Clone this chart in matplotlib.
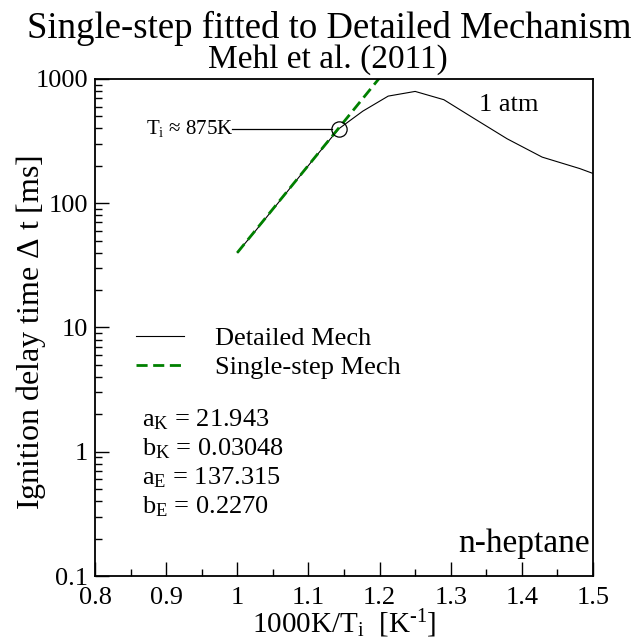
import numpy as np
import matplotlib.pyplot as plt
from matplotlib.ticker import MultipleLocator, LogLocator, NullFormatter, FixedLocator, FixedFormatter

plt.rcParams['font.family'] = ['Liberation Serif', 'DejaVu Serif']
plt.rcParams['mathtext.fontset'] = 'custom'
plt.rcParams['mathtext.rm'] = 'Liberation Serif'
plt.rcParams['mathtext.it'] = 'Liberation Serif:italic'

# detailed mechanism, 1 atm (temperatures in K, delay in ms)
T_detailed = [1000, 975, 950, 925, 900, 875, 850, 825, 800, 775, 750, 725, 700, 675, 650]
tau_detailed = [40, 60, 93, 148, 241, 398, 551, 728, 794, 681, 479, 330, 235, 190, 144]

# single-step fit
x_single = [1.0, 1.2]
tau_single = [40, 1020]

T_ign = 875
tau_ign = 398

params = [r'a$_{\mathrm{K}}$ = 21.943', r'b$_{\mathrm{K}}$ = 0.03048',
          r'a$_{\mathrm{E}}$ = 137.315', r'b$_{\mathrm{E}}$ = 0.2270']

x_detailed = [1000.0 / t for t in T_detailed]

fig = plt.figure(figsize=(6.39, 6.41), dpi=100)
ax = fig.add_axes([0.1487, 0.1014, 0.7793, 0.7754])

ax.plot(x_detailed, tau_detailed, color='black', lw=0.8, label='Detailed Mech')
ax.plot(x_single, tau_single, color='green', lw=2.0, ls=(0, (4, 2)), label='Single-step Mech')

# ignition point marker and label
x_ign = 1000.0 / T_ign
ax.plot([x_ign], [tau_ign], marker='o', ms=11, mfc='none', mec='black', mew=0.9)
ax.plot([0.9926, x_ign - 0.0095], [tau_ign, tau_ign], color='black', lw=0.9)
ax.text(0.872, tau_ign, r'T$_{\mathrm{i}}$ ≈ 875K', fontsize=15, va='center', ha='left')

ax.set_yscale('log')
ax.set_xlim(0.8, 1.5)
ax.set_ylim(0.1, 1000)

xt = [0.8, 0.9, 1.0, 1.1, 1.2, 1.3, 1.4, 1.5]
ax.xaxis.set_major_locator(FixedLocator(xt))
ax.xaxis.set_major_formatter(FixedFormatter(['0.8', '0.9', '1', '1.1', '1.2', '1.3', '1.4', '1.5']))
ax.xaxis.set_minor_locator(MultipleLocator(0.05))
yt = [0.1, 1, 10, 100, 1000]
ax.yaxis.set_major_locator(FixedLocator(yt))
ax.yaxis.set_major_formatter(FixedFormatter(['0.1', '1', '10', '100', '1000']))
ax.yaxis.set_minor_locator(LogLocator(base=10, subs=np.arange(2, 10)))
ax.yaxis.set_minor_formatter(NullFormatter())

ax.tick_params(which='both', direction='in', top=False, right=False, labelsize=19)
ax.tick_params(axis='x', pad=8)
ax.tick_params(axis='y', pad=5)
ax.tick_params(which='major', length=10, width=1.0)
ax.tick_params(which='minor', length=5, width=1.0)
for s in ax.spines.values():
    s.set_linewidth(1.3)

ax.set_xlabel(r'1000K/T$_{\mathrm{i}}$  [K$^{\text{-1}}$]', fontsize=21, labelpad=-1)
ax.set_ylabel(r'Ignition delay time $\Delta$ t [ms]', fontsize=23, labelpad=2)
ax.yaxis.set_label_coords(-0.094, 0.49)

ax.legend(loc='upper left', bbox_to_anchor=(0.056, 0.529), frameon=False, fontsize=19,
          handlelength=1.8, handletextpad=1.2, labelspacing=0.22, borderpad=0)

for i, p in enumerate(params):
    ax.text(0.094, 0.315 - i * 0.0586, p, transform=ax.transAxes, fontsize=19, va='center')

ax.text(1.34, 620, '1 atm', fontsize=19, ha='left', va='center')
ax.text(0.994, 0.048, 'n-heptane', transform=ax.transAxes, fontsize=24, ha='right', va='baseline')

fig.text(0.515, 0.941, 'Single-step fitted to Detailed Mechanism', fontsize=26.5, ha='center', va='baseline')
fig.text(0.513, 0.8945, 'Mehl et al. (2011)', fontsize=24, ha='center', va='baseline')

fig.savefig('out.png', dpi=100)
